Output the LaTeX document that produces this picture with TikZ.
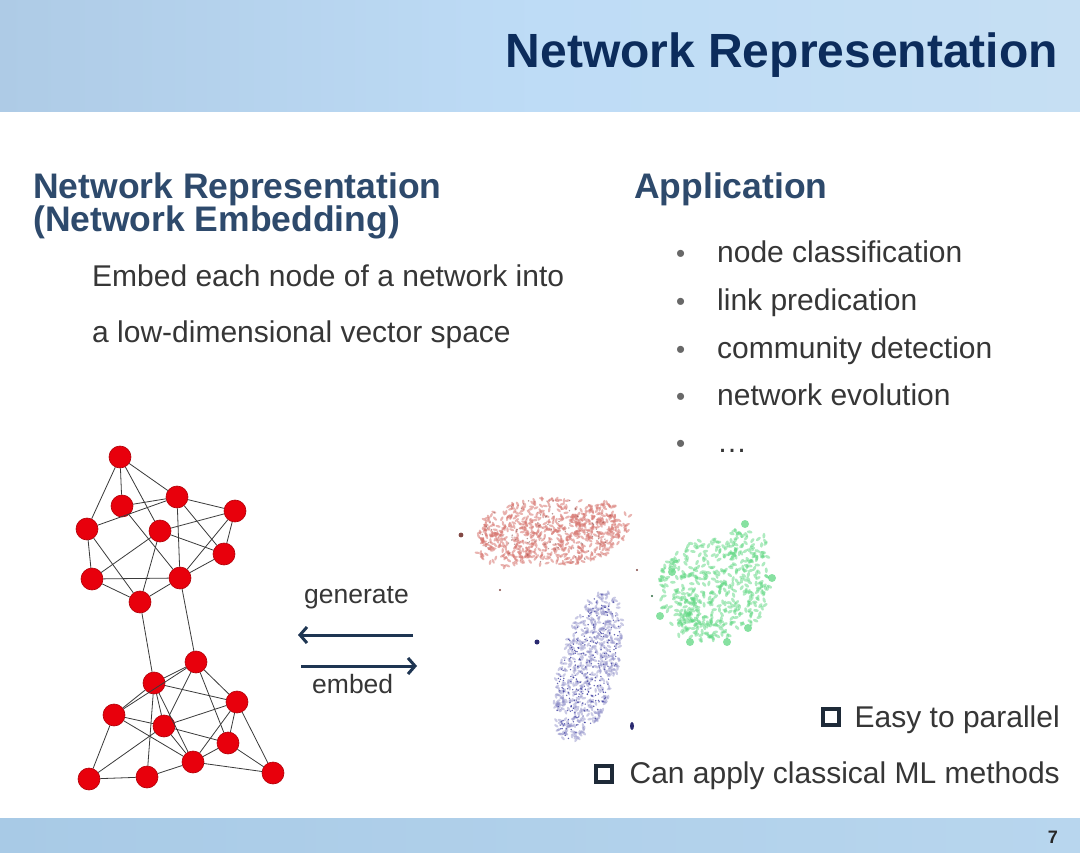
\documentclass[tikz,border=0pt]{standalone}
\usepackage{fontspec}
\setmainfont{Liberation Sans}
\usetikzlibrary{arrows.meta}
\definecolor{titleblue}{HTML}{0C2C5C}
\definecolor{headblue}{HTML}{2E4A6C}
\definecolor{bodytxt}{HTML}{363636}
\definecolor{bandA}{HTML}{AECBE6}
\definecolor{bandB}{HTML}{BEDCF6}
\definecolor{bandC}{HTML}{C6DFF3}
\definecolor{footA}{HTML}{A8CAE6}
\definecolor{footB}{HTML}{B8D6EE}
\definecolor{nodered}{HTML}{E8000C}
\definecolor{noderim}{HTML}{B00008}
\definecolor{edgegray}{HTML}{3A3A3A}
\definecolor{arrowblue}{HTML}{1E3552}
\definecolor{ptred}{HTML}{D87872}
\definecolor{ptgreen}{HTML}{5FD882}
\definecolor{ptblue}{HTML}{3C3CA0}
\definecolor{boxdark}{HTML}{1E2A38}
\newcommand\myfs[1]{\fontsize{#1}{#1}\selectfont}
\begin{document}
\begin{tikzpicture}[x=1pt,y=-1pt,
  txt/.style={inner sep=0pt,anchor=base west,text=bodytxt},
  gnode/.style={circle,fill=nodered,draw=noderim,line width=0.6pt,minimum size=22pt,inner sep=0pt},
  gedge/.style={draw=edgegray,line width=0.8pt},
  bigarrow/.style={draw=arrowblue,line width=3pt,-{Straight Barb[length=7pt,width=16pt]}},
  chk/.style={draw=boxdark,line width=3.5pt,minimum size=16pt,inner sep=0pt}]
\useasboundingbox (0,0) rectangle (1080,853);
% background
\fill[white] (0,0) rectangle (1080,853);
\shade[left color=bandA,right color=bandC,middle color=bandB] (0,0) rectangle (1080,112);
\fill[white,opacity=0.5] (0,112) rectangle (1080,118);
\shade[left color=footA,right color=footB] (0,818) rectangle (1080,853);
% title
\node[txt,anchor=base east,text=titleblue] (title) at (1058,68) {\myfs{48}\bfseries Network Representation};
% left heading
\node[txt,text=headblue] (head1) at (33,199) {\myfs{35.5}\bfseries Network Representation};
\node[txt,text=headblue] (head2) at (33,232) {\myfs{35.5}\bfseries (Network Embedding)};
\node[txt] (desc1) at (92,287) {\myfs{30}Embed each node of a network into};
\node[txt] (desc2) at (92,343) {\myfs{30}a low-dimensional vector space};
% application
\node[txt,text=headblue] (apphead) at (634,199) {\myfs{35.5}\bfseries Application};
\foreach \t/\yy [count=\k] in {node classification/263,link predication/311,community detection/359,network evolution/406,\dots/452}{
  \node[txt,text=bodytxt!75] (bul\k) at (676,\yy) {\myfs{26}•};
  \node[txt] (item\k) at (717,\yy) {\myfs{30}\t};
}
% graph
\foreach \n/\px/\py in {A/120/457,B/122/506,C/177/497,D/235/511,E/87/529,F/160/531,G/224/554,H/92/579,I/180/578,J/140/602,
  K/196/662,L/154/683,M/237/702,N/114/715,O/164/726,P/228/743,Q/193/762,R/89/779,S/147/777,T/273/773}{
  \node[gnode] (\n) at (\px,\py) {};
}
\foreach \u/\v in {A/B,A/E,A/C,A/F,B/C,E/C,B/I,C/I,C/D,C/G,D/F,D/G,D/I,F/G,F/H,F/J,E/H,E/J,H/I,H/J,I/J,I/G,J/L,I/K,
  L/K,N/K,L/M,L/N,L/O,L/Q,L/S,K/O,K/M,K/P,M/O,M/P,M/Q,M/T,N/O,N/Q,N/R,R/S,R/O,S/Q,O/Q,O/P,P/Q,P/T,Q/T}{
  \draw[gedge] (\u) -- (\v);
}
% arrows
\node[txt] (gen) at (304,603) {\myfs{26.5}generate};
\node[txt] (emb) at (312,693) {\myfs{26.5}embed};
\coordinate (g1) at (413,635);
\coordinate (g2) at (298,635);
\coordinate (e1) at (301,666);
\coordinate (e2) at (417,666);
\draw[bigarrow] (g1) -- (g2);
\draw[bigarrow] (e1) -- (e2);
% scatter clusters
\pgfmathsetseed{4242}
% red
\foreach \cx/\cy/\ax/\ay/\nn in {552/532/74/34/480,505/545/30/22/80,600/522/32/20/80}{
  \foreach \i in {1,...,\nn}{
    \pgfmathsetmacro{\ang}{360*rnd}
    \pgfmathsetmacro{\rr}{sqrt(rnd)}
    \pgfmathsetmacro{\sx}{\cx+\ax*\rr*cos(\ang)}
    \pgfmathsetmacro{\sy}{\cy+\ay*\rr*sin(\ang)}
    \pgfmathsetmacro{\rot}{180*rnd}
    \fill[ptred,opacity=0.55,rotate around={\rot:(\sx,\sy)}] (\sx,\sy) ellipse (2.6pt and 1.2pt);
  }
}
\foreach \i in {1,...,80}{
  \pgfmathsetmacro{\ang}{360*rnd}
  \pgfmathsetmacro{\rr}{sqrt(rnd)}
  \fill[ptred!60!black,opacity=0.55] ({552+72*\rr*cos(\ang)},{533+34*\rr*sin(\ang)}) circle (0.8pt);
}
% green
\foreach \cx/\cy/\ax/\ay/\nn in {714/588/56/50/360,745/550/25/22/60,700/620/30/22/60}{
  \foreach \i in {1,...,\nn}{
    \pgfmathsetmacro{\ang}{360*rnd}
    \pgfmathsetmacro{\rr}{sqrt(rnd)}
    \pgfmathsetmacro{\sx}{\cx+\ax*\rr*cos(\ang)}
    \pgfmathsetmacro{\sy}{\cy+\ay*\rr*sin(\ang)}
    \pgfmathsetmacro{\rot}{180*rnd}
    \fill[ptgreen,opacity=0.5,rotate around={\rot:(\sx,\sy)}] (\sx,\sy) ellipse (2.8pt and 1.5pt);
  }
}
\foreach \gx/\gy in {745/524,772/578,690/642,660/616,748/628,727/642,672/572}{
  \fill[ptgreen,opacity=0.75] (\gx,\gy) circle (4pt);
}
% blue
\foreach \i in {1,...,480}{
  \pgfmathsetmacro{\ang}{360*rnd}
  \pgfmathsetmacro{\rr}{sqrt(rnd)}
  \pgfmathsetmacro{\vv}{\rr*sin(\ang)}
  \pgfmathsetmacro{\sx}{588+30*\rr*cos(\ang)-17*\vv}
  \pgfmathsetmacro{\sy}{667+75*\vv}
  \pgfmathsetmacro{\rot}{180*rnd}
  \fill[ptblue!60,opacity=0.45,rotate around={\rot:(\sx,\sy)}] (\sx,\sy) ellipse (2.4pt and 1.2pt);
}
\foreach \i in {1,...,260}{
  \pgfmathsetmacro{\ang}{360*rnd}
  \pgfmathsetmacro{\rr}{sqrt(rnd)}
  \pgfmathsetmacro{\vv}{\rr*sin(\ang)}
  \fill[ptblue,opacity=0.8] ({588+28*\rr*cos(\ang)-17*\vv},{667+73*\vv}) circle (0.8pt);
}
\fill[ptblue!70!black] (537,642) circle (2.5pt);
\fill[ptblue!70!black] (632,726) ellipse (2pt and 4pt);
\fill[ptred!60!black] (461,535) circle (2.4pt);
\fill[ptred!60!black] (500,590) circle (1.2pt);
\fill[ptred!60!black] (637,570) circle (1.2pt);
\fill[ptgreen!50!black] (652,596) circle (1.2pt);
% bottom items
\node[chk] (box1) at (831,717) {};
\node[txt,anchor=base east] (adv1) at (1060,727) {\myfs{30}Easy to parallel};
\node[chk] (box2) at (604,774) {};
\node[txt,anchor=base east] (adv2) at (1060,783) {\myfs{30}Can apply classical ML methods};
\node[txt,anchor=base east,text=bodytxt!70!black] (pnum) at (1058,843) {\myfs{18}\bfseries 7};
\end{tikzpicture}
\end{document}
